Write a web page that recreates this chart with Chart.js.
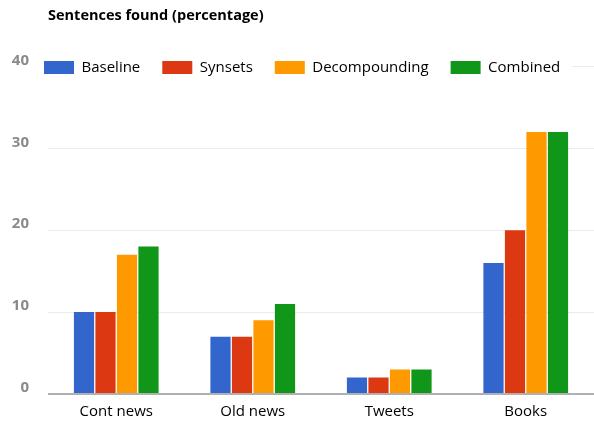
<!DOCTYPE html>
<html>
<head>
<meta charset="utf-8">
<script src="https://cdn.jsdelivr.net/npm/chart.js@4/dist/chart.umd.min.js"></script>
<style>
html,body{margin:0;padding:0;background:#fff;}
#wrap{width:594px;height:423px;position:relative;}
</style>
</head>
<body>
<div id="wrap"><canvas id="c" width="594" height="423"></canvas></div>
<script>
const categories = ["Cont news", "Old news", "Tweets", "Books"];
const seriesNames = ["Baseline", "Synsets", "Decompounding", "Combined"];
const baseline = [10, 7, 2, 16];
const synsets = [10, 7, 2, 20];
const decompounding = [17, 9, 3, 32];
const combined = [18, 11, 3, 32];
const yTicks = [0, 10, 20, 30, 40];
const colors = ["#3366CC", "#DC3912", "#FF9900", "#109618"];

const seriesValues = [baseline, synsets, decompounding, combined];

// Legend overlays the top of the plot area (takes no layout space)
const legendOverlay = {
  id: 'legendOverlay',
  beforeLayout(chart) {
    const lg = chart.legend;
    if (lg && !lg.__patched) {
      const origFit = lg.fit;
      lg.fit = function () { origFit.call(this); this.height = 0; };
      const origDraw = lg.draw;
      lg.draw = function () {
        const ctx = this.ctx;
        ctx.save();
        ctx.fillStyle = '#ffffff';
        ctx.fillRect(40, 56, 532, 24);
        ctx.restore();
        origDraw.apply(this, arguments);
      };
      lg.__patched = true;
    }
  },
  afterLayout(chart) {
    const lg = chart.legend;
    if (lg) {
      lg.left = 22;
      lg.top = 38;
      lg.height = 45;
      lg.bottom = lg.top + lg.height;
    }
  }
};

new Chart(document.getElementById('c'), {
  type: 'bar',
  data: {
    labels: categories,
    datasets: seriesNames.map((n, i) => ({
      label: n,
      data: seriesValues[i],
      backgroundColor: colors[i],
      borderWidth: 0,
      barPercentage: 0.94,
      categoryPercentage: 0.63
    }))
  },
  plugins: [legendOverlay],
  options: {
    responsive: false,
    animation: false,
    layout: { padding: { left: 10, right: -6, top: 0, bottom: 3 } },
    plugins: {
      title: {
        display: true,
        text: 'Sentences found (percentage)',
        align: 'start',
        fullSize: false,
        color: '#000',
        font: { family: 'Open Sans', size: 14.5, weight: 'bold' },
        padding: { top: 7, bottom: 42 }
      },
      legend: {
        position: 'top',
        align: 'start',
        labels: {
          boxWidth: 30,
          boxHeight: 13,
          padding: 22,
          color: '#000',
          font: { family: 'Open Sans', size: 15 }
        }
      },
      tooltip: { enabled: false }
    },
    scales: {
      x: {
        afterFit: (axis) => { axis.height = 26; },
        grid: { display: false, drawTicks: false },
        border: { display: false },
        ticks: { color: '#000', font: { family: 'Open Sans', size: 15 }, padding: 9 }
      },
      y: {
        min: 0,
        max: 40,
        afterFit: (axis) => { axis.width = 38; },
        afterBuildTicks: (axis) => { axis.ticks = yTicks.map(v => ({ value: v })); },
        grid: {
          color: (ctx) => ctx.tick && ctx.tick.value === 0 ? '#b0b0b0' : '#ebebeb',
          lineWidth: (ctx) => ctx.tick && ctx.tick.value === 0 ? 2 : 1,
          drawTicks: false
        },
        border: { display: false },
        ticks: {
          color: '#8a8a8a',
          font: { family: 'Open Sans', size: 15, weight: 'bold' },
          padding: 19,
          labelOffset: -6
        }
      }
    }
  }
});
</script>
</body>
</html>
